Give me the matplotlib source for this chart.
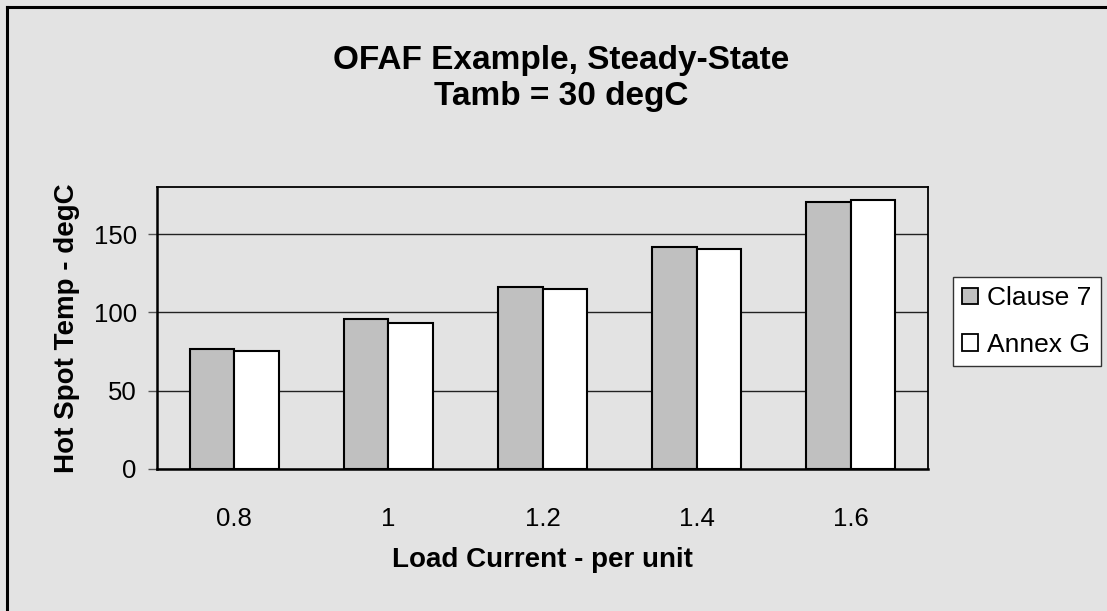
"""OFAF example: hot spot temperature vs load current, Clause 7 vs Annex G."""

import matplotlib
matplotlib.use("Agg")
import matplotlib.pyplot as plt
import numpy as np
from matplotlib.lines import Line2D

plt.rcParams["font.family"] = ["Liberation Sans", "DejaVu Sans"]

load_current = ["0.8", "1", "1.2", "1.4", "1.6"]
clause_7 = [76.8, 95.7, 116.3, 141.6, 170.3]
annex_g = [75.5, 93.1, 115.0, 140.5, 171.4]

BG = "#E3E3E3"


def main():
    W, H = 1107, 611
    fig = plt.figure(figsize=(W / 100, H / 100), dpi=100, facecolor=BG)
    ax = fig.add_axes([157 / W, 1 - 469 / H, (928 - 157) / W, (469 - 187) / H])
    ax.set_facecolor(BG)

    x = np.arange(len(load_current))
    width = 0.289
    ax.bar(x - width / 2, clause_7, width, color="#C0C0C0", edgecolor="black",
           linewidth=1.5, label="Clause 7", zorder=3)
    ax.bar(x + width / 2, annex_g, width, color="white", edgecolor="black",
           linewidth=1.5, label="Annex G", zorder=3)

    ax.set_xlim(-0.5, len(load_current) - 0.5)
    ax.set_ylim(0, 180)
    ax.set_yticks([0, 50, 100, 150])
    ax.yaxis.grid(True, color="#222222", linewidth=1.0, zorder=0)
    ax.set_axisbelow(True)

    ax.set_xticks(x)
    ax.set_xticklabels(load_current)
    ax.tick_params(axis="x", length=0, pad=27, labelsize=18.5)
    ax.tick_params(axis="y", length=6.5, width=1, color="#555555", pad=8, labelsize=18.5)

    for s in ax.spines.values():
        s.set_color("black")
        s.set_linewidth(1.3)
    ax.spines["left"].set_linewidth(1.8)
    ax.spines["bottom"].set_linewidth(1.8)

    ax.set_xlabel("Load Current - per unit", fontsize=20, fontweight="bold", labelpad=12)
    ax.set_ylabel("Hot Spot Temp - degC", fontsize=20, fontweight="bold", labelpad=10)

    fig.text(561 / W, 1 - 60 / H, "OFAF Example, Steady-State", ha="center", va="center",
             fontsize=24, fontweight="bold")
    fig.text(561 / W, 1 - 97 / H, "Tamb = 30 degC", ha="center", va="center",
             fontsize=24, fontweight="bold")

    leg = fig.legend(loc="upper left", bbox_to_anchor=(953 / W, 1 - 277 / H),
                     bbox_transform=fig.transFigure, borderaxespad=0, fontsize=19,
                     handlelength=0.6, handleheight=0.6, handletextpad=0.35,
                     labelspacing=0.86, borderpad=0.35, fancybox=False, framealpha=1,
                     edgecolor="#333333", facecolor="white")
    leg.get_frame().set_linewidth(1.0)
    for p in leg.get_patches():
        p.set_linewidth(1.3)

    # chart area border (only top and left visible in crop)
    fig.add_artist(Line2D([7 / W, 7 / W], [0, 1 - 7 / H], transform=fig.transFigure,
                          color="black", linewidth=2.2))
    fig.add_artist(Line2D([7 / W, 1], [1 - 7 / H, 1 - 7 / H], transform=fig.transFigure,
                          color="black", linewidth=2.2))

    fig.savefig("out.png", dpi=100, facecolor=BG)
    plt.close(fig)


if __name__ == "__main__":
    main()
